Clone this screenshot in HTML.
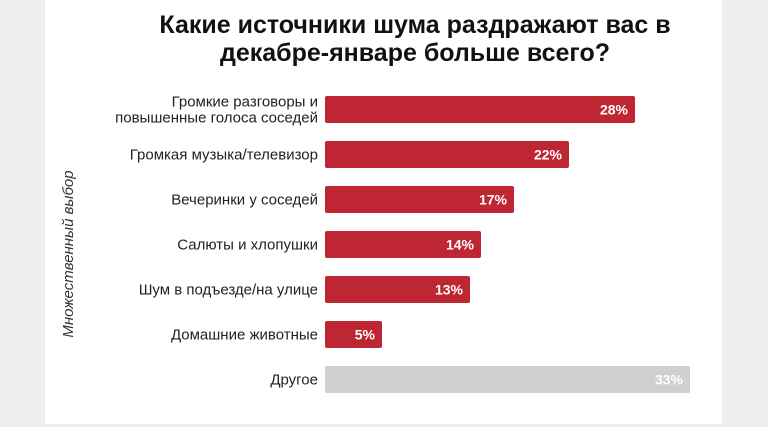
<!DOCTYPE html>
<html><head><meta charset="utf-8">
<style>
html,body{margin:0;padding:0;width:768px;height:427px;background:#efefef;overflow:hidden;font-family:"Liberation Sans","Noto Sans CJK SC",sans-serif;}
#card{position:absolute;left:45px;top:0;width:677px;height:424px;background:#fff;}
</style></head><body>
<div id="card"></div>
<svg id="chart" width="768" height="427" style="position:absolute;left:0;top:0">
<text x="415" y="33" text-anchor="middle" font-size="25" font-weight="bold" fill="#111">Какие источники шума раздражают вас в</text>
<text x="415" y="61" text-anchor="middle" font-size="25" font-weight="bold" fill="#111">декабре-январе больше всего?</text>
<text transform="translate(73,254) rotate(-90)" text-anchor="middle" font-size="15" font-style="italic" fill="#333">Множественный выбор</text>
<g id="bars"></g>
</svg>
<script>
const categories = [["Громкие разговоры и","повышенные голоса соседей"],["Громкая музыка/телевизор"],["Вечеринки у соседей"],["Салюты и хлопушки"],["Шум в подъезде/на улице"],["Домашние животные"],["Другое"]];
const values = [28,22,17,14,13,5,33];
const valueLabels = ["28%","22%","17%","14%","13%","5%","33%"];
const colors = ["#be2633","#be2633","#be2633","#be2633","#be2633","#be2633","#d0d0d0"];
const x0 = 325, scale = 11.0, y0 = 96, step = 45, bh = 27;
const xs = v => x0 + 2 + v*scale;
const ys = i => y0 + i*step;
const g = document.getElementById('bars');
const NS = 'http://www.w3.org/2000/svg';
values.forEach((v,i)=>{
  const r = document.createElementNS(NS,'rect');
  r.setAttribute('x',x0); r.setAttribute('y',ys(i));
  r.setAttribute('width',xs(v)-x0); r.setAttribute('height',bh);
  r.setAttribute('rx',2); r.setAttribute('fill',colors[i]);
  
  
  g.appendChild(r);
  const t = document.createElementNS(NS,'text');
  t.setAttribute('x',xs(v)-7); t.setAttribute('y',ys(i)+bh/2+5);
  t.setAttribute('text-anchor','end'); t.setAttribute('font-size','14');
  t.setAttribute('font-weight','bold'); t.setAttribute('fill','#fff');
  t.textContent = valueLabels[i];
  
  
  g.appendChild(t);
  const lines = categories[i];
  lines.forEach((ln,j)=>{
    const c = document.createElementNS(NS,'text');
    c.setAttribute('x',318);
    c.setAttribute('y',ys(i)+bh/2+5 + (j - (lines.length-1)/2)*16);
    c.setAttribute('text-anchor','end'); c.setAttribute('font-size','15');
    c.setAttribute('fill','#222');
    c.textContent = ln;
    
    
    g.appendChild(c);
  });
});
</script>
</body></html>
